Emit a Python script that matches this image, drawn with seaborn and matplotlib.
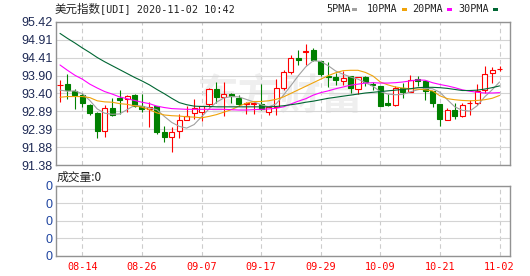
import numpy as np
import pandas as pd
import matplotlib
matplotlib.use("Agg")
import matplotlib.pyplot as plt
import seaborn as sns
from matplotlib.patches import Rectangle

# ---------------- data ----------------
dates = ["08-11", "08-12", "08-13", "08-14", "08-17", "08-18", "08-19", "08-20", "08-21", "08-24",
         "08-25", "08-26", "08-27", "08-28", "08-31", "09-01", "09-02", "09-03", "09-04", "09-07",
         "09-08", "09-09", "09-10", "09-11", "09-14", "09-15", "09-16", "09-17", "09-18", "09-21",
         "09-22", "09-23", "09-24", "09-25", "09-28", "09-29", "09-30", "10-01", "10-02", "10-05",
         "10-06", "10-07", "10-08", "10-09", "10-12", "10-13", "10-14", "10-15", "10-16", "10-19",
         "10-20", "10-21", "10-22", "10-23", "10-26", "10-27", "10-28", "10-29", "10-30", "11-02"]

open_ = [93.63, 93.67, 93.47, 93.36, 93.08, 92.86, 92.34, 92.99, 93.28, 93.24,
         93.34, 93.05, 92.95, 93.05, 92.31, 92.18, 92.35, 92.66, 92.85, 92.87,
         93.11, 93.52, 93.30, 93.37, 93.28, 93.09, 93.10, 93.10, 92.88, 93.02,
         93.55, 94.00, 94.39, 94.56, 94.63, 94.30, 93.90, 93.86, 93.76, 93.88,
         93.52, 93.86, 93.65, 93.62, 93.13, 93.06, 93.55, 93.44, 93.80, 93.74,
         93.46, 93.11, 92.66, 92.94, 92.75, 93.12, 93.13, 93.49, 93.97, 94.08]
high = [93.78, 93.95, 93.52, 93.41, 93.11, 92.87, 93.07, 93.26, 93.50, 93.35,
        93.39, 93.39, 93.16, 93.05, 92.49, 92.46, 92.82, 93.05, 93.24, 93.05,
        93.54, 93.71, 93.71, 93.41, 93.34, 93.16, 93.16, 93.67, 93.02, 93.80,
        94.06, 94.49, 94.63, 94.79, 94.67, 94.30, 94.28, 93.97, 94.02, 93.88,
        93.86, 93.90, 93.71, 93.62, 93.39, 93.60, 93.69, 93.92, 93.90, 93.74,
        93.46, 93.11, 92.99, 93.13, 93.13, 93.22, 93.66, 94.16, 94.13, 94.18]
low = [93.17, 93.25, 92.96, 93.02, 92.78, 92.14, 92.18, 92.76, 92.83, 92.88,
       93.02, 92.88, 92.46, 92.24, 92.03, 91.75, 92.14, 92.66, 92.69, 92.62,
       93.02, 93.13, 92.77, 93.13, 93.04, 92.83, 92.83, 92.92, 92.80, 92.80,
       93.50, 93.95, 94.20, 94.20, 94.30, 93.90, 93.58, 93.64, 93.64, 93.41,
       93.39, 93.62, 93.50, 93.04, 93.04, 93.04, 93.27, 93.43, 93.60, 93.22,
       93.02, 92.49, 92.64, 92.68, 92.74, 92.80, 93.08, 93.41, 93.69, 94.02]
close = [93.64, 93.49, 93.34, 93.13, 92.85, 92.34, 92.99, 92.80, 93.22, 93.33,
         93.04, 92.97, 93.02, 92.31, 92.18, 92.32, 92.66, 92.75, 92.99, 93.05,
         93.52, 93.30, 93.37, 93.33, 93.11, 93.12, 93.12, 92.96, 93.02, 93.55,
         94.00, 94.41, 94.34, 94.60, 94.33, 93.95, 93.86, 93.77, 93.83, 93.55,
         93.86, 93.71, 93.63, 93.05, 93.06, 93.55, 93.43, 93.78, 93.74, 93.46,
         93.13, 92.68, 92.94, 92.75, 93.07, 93.14, 93.48, 93.94, 94.06, 94.10]

ma5 = [93.49, 93.46, 93.47, 93.39, 93.20, 92.96, 92.84, 92.81, 92.82, 92.94,
       93.06, 93.04, 92.99, 92.94, 92.75, 92.58, 92.47, 92.42, 92.52, 92.74,
       92.96, 93.15, 93.27, 93.31, 93.30, 93.23, 93.16, 93.08, 93.02, 93.10,
       93.35, 93.62, 93.90, 94.15, 94.32, 94.30, 94.18, 94.03, 93.94, 93.86,
       93.80, 93.70, 93.60, 93.45, 93.38, 93.36, 93.37, 93.44, 93.50, 93.54,
       93.53, 93.43, 93.22, 93.02, 92.92, 92.90, 93.05, 93.30, 93.50, 93.72]
ma10 = [93.29, 93.31, 93.31, 93.31, 93.28, 93.19, 93.16, 93.15, 93.11, 93.09,
        93.05, 93.01, 92.94, 92.85, 92.79, 92.77, 92.76, 92.74, 92.73, 92.71,
        92.75, 92.80, 92.87, 92.94, 93.04, 93.12, 93.17, 93.17, 93.19, 93.23,
        93.30, 93.40, 93.50, 93.60, 93.70, 93.80, 93.90, 93.98, 94.04, 94.05,
        94.05, 93.99, 93.89, 93.72, 93.64, 93.58, 93.55, 93.53, 93.52, 93.50,
        93.47, 93.33, 93.25, 93.22, 93.20, 93.19, 93.20, 93.22, 93.26, 93.34]
ma20 = [94.20, 94.05, 93.91, 93.80, 93.66, 93.55, 93.45, 93.38, 93.30, 93.25,
        93.20, 93.15, 93.11, 93.04, 93.00, 92.97, 92.96, 92.95, 92.95, 92.95,
        92.95, 92.95, 92.95, 92.94, 92.93, 92.93, 92.94, 92.95, 92.96, 92.98,
        93.02, 93.10, 93.18, 93.25, 93.35, 93.42, 93.47, 93.53, 93.58, 93.63,
        93.66, 93.69, 93.70, 93.69, 93.69, 93.70, 93.72, 93.75, 93.78, 93.77,
        93.70, 93.65, 93.61, 93.56, 93.50, 93.46, 93.43, 93.41, 93.41, 93.42]
ma30 = [95.09, 94.95, 94.82, 94.68, 94.55, 94.41, 94.29, 94.18, 94.07, 93.96,
        93.85, 93.75, 93.64, 93.51, 93.39, 93.26, 93.14, 93.08, 93.04, 93.03,
        93.03, 93.02, 93.02, 93.02, 93.02, 93.02, 93.02, 93.02, 93.02, 93.03,
        93.05, 93.08, 93.11, 93.15, 93.18, 93.22, 93.26, 93.29, 93.32, 93.35,
        93.38, 93.41, 93.43, 93.45, 93.47, 93.49, 93.51, 93.53, 93.56, 93.57,
        93.57, 93.56, 93.54, 93.51, 93.48, 93.48, 93.49, 93.52, 93.56, 93.61]

volume = [0] * 60

price_ticks = [95.42, 94.91, 94.41, 93.90, 93.40, 92.89, 92.39, 91.88, 91.38]
x_tick_labels = ["08-14", "08-26", "09-07", "09-17", "09-29", "10-09", "10-21", "11-02"]
ma_names = ["5PMA", "10PMA", "20PMA", "30PMA"]

title_cn = "美元指数"
title_code = "[UDI] 2020-11-02 10:42"
vol_title = "成交量:0"

# ---------------- style ----------------
sns.set_style("white")
plt.rcParams["font.family"] = ["Liberation Sans", "Noto Sans CJK SC", "DejaVu Sans"]

W, H = 530, 276
def fx(px):
    return px / W
def fy(py):
    return 1 - py / H

RED = "#ff0000"
GREEN = "#008000"
ma_colors = ["#a0a0a0", "#f0a30a", "#ff00ff", "#006633"]
GRID = "#d4d4d4"
VGRID = "#cccccc"
SPINE = "#929292"

fig = plt.figure(figsize=(W / 100, H / 100), dpi=100)
ax = fig.add_axes([fx(55.5), fy(165), (509.5 - 55.5) / W, (165 - 21.7) / H])
axv = fig.add_axes([fx(55.5), fy(255.7), (509.5 - 55.5) / W, (255.7 - 186) / H])

n = len(dates)
idx = np.arange(n)
x0 = (55.5 - 60) / 7.45
x1 = (509.5 - 60) / 7.45

df = pd.DataFrame({"i": idx, "open": open_, "high": high, "low": low, "close": close,
                   "5PMA": ma5, "10PMA": ma10, "20PMA": ma20, "30PMA": ma30, "vol": volume})

# watermark
ax.text(fx(280), fy(96), "东方财富", transform=fig.transFigure, ha="center", va="center",
        fontsize=30, fontweight="bold", color="#efefef", zorder=0,
        family=["Noto Sans CJK SC", "DejaVu Sans"])

# candles
up = df["close"] >= df["open"]
cols = np.where(up, RED, GREEN)
ax.vlines(df["i"], df["low"], df["high"], colors=cols, linewidth=0.8, zorder=2)
body_bottom = np.minimum(df["open"], df["close"])
body_h = np.maximum(np.abs(df["close"] - df["open"]), 0.004)
face = np.where(up, "white", GREEN)
ax.bar(df["i"], body_h, bottom=body_bottom, width=0.68, color=face, edgecolor=cols,
       linewidth=0.8, zorder=3)

# moving averages
for name, c in zip(ma_names, ma_colors):
    sns.lineplot(data=df, x="i", y=name, ax=ax, color=c, linewidth=0.8, zorder=4, legend=False)

# axes formatting (main)
tick_pos = [dates.index(d) for d in x_tick_labels]
ax.set_xlim(x0, x1)
ax.set_ylim(price_ticks[-1], price_ticks[0])
ax.set_yticks(price_ticks)
ax.set_yticklabels([f"{v:.2f}" for v in price_ticks], fontsize=9, color="#1e2a55")
ax.set_xticks(tick_pos)
ax.tick_params(axis="x", labelbottom=False, length=0)
ax.tick_params(axis="y", length=0, pad=1.8)
ax.set_xlabel("")
ax.set_ylabel("")
ax.grid(axis="y", color=GRID, linewidth=0.8, linestyle="-", zorder=0)
ax.grid(axis="x", color=VGRID, linewidth=0.8, linestyle=(0, (4, 3)), zorder=0)
ax.set_axisbelow(True)
for s in ax.spines.values():
    s.set_color(SPINE)
    s.set_linewidth(1.0)

# volume panel
axv.bar(df["i"], df["vol"], width=0.68, color=GREEN)
vmax = max(volume)
vticks = [0, 0.25, 0.5, 0.75, 1.0]
axv.set_xlim(x0, x1)
axv.set_ylim(0, 1)
axv.set_yticks(vticks)
axv.set_yticklabels([f"{vmax * t:.0f}" for t in vticks], fontsize=9, color="#1f45a0")
axv.set_xticks(tick_pos)
axv.set_xticklabels(x_tick_labels, fontsize=7.3, color=RED, family="DejaVu Sans Mono")
axv.tick_params(axis="x", length=0, pad=4.5)
axv.tick_params(axis="y", length=0, pad=1.8)
axv.grid(axis="y", color=GRID, linewidth=0.8, linestyle="-")
axv.grid(axis="x", color=VGRID, linewidth=0.8, linestyle=(0, (4, 3)))
axv.set_axisbelow(True)
for s in axv.spines.values():
    s.set_color(SPINE)
    s.set_linewidth(1.0)

# title
fig.text(fx(55), fy(9.5), title_cn, fontsize=8.3, color="#222222", va="center", ha="left",
         family=["Noto Sans CJK SC", "DejaVu Sans"])
fig.text(fx(100.5), fy(9.5), title_code, fontsize=7.3, color="#222222", va="center", ha="left",
         family="DejaVu Sans Mono")

# legend
leg_text_x = [326, 367, 412, 458.5]
leg_mark_x = [352, 401.5, 446.5, 492.5]
for name, c, tx, mx in zip(ma_names, ma_colors, leg_text_x, leg_mark_x):
    fig.text(fx(tx), fy(9.0), name, fontsize=7.3, color="#222222", va="center", ha="left",
             family="DejaVu Sans Mono")
    fig.add_artist(Rectangle((fx(mx), fy(11)), 5 / W, 3 / H, transform=fig.transFigure,
                             facecolor=c, edgecolor="none"))

# volume label
fig.text(fx(57), fy(177.5), vol_title, fontsize=8.5, color="#222222", va="center", ha="left",
         family=["Noto Sans CJK SC", "DejaVu Sans"])

fig.savefig("out.png", dpi=100)
